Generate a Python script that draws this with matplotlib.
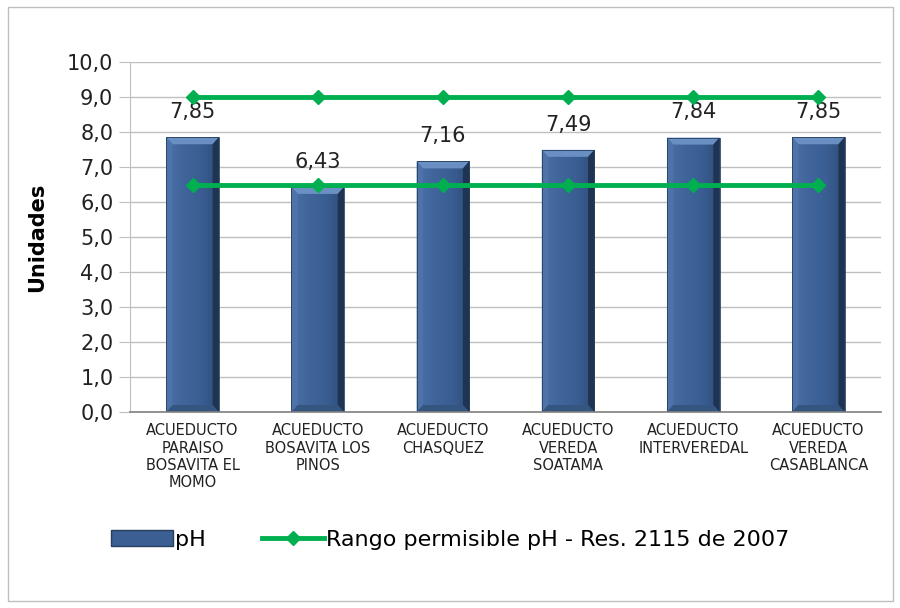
import matplotlib.pyplot as plt
import matplotlib.patches as mpatches
from matplotlib.lines import Line2D
from matplotlib.colors import LinearSegmentedColormap
import numpy as np

categories = [
    "ACUEDUCTO\nPARAISO\nBOSAVITA EL\nMOMO",
    "ACUEDUCTO\nBOSAVITA LOS\nPINOS",
    "ACUEDUCTO\nCHASQUEZ",
    "ACUEDUCTO\nVEREDA\nSOATAMA",
    "ACUEDUCTO\nINTERVEREDAL",
    "ACUEDUCTO\nVEREDA\nCASABLANCA",
]
ph_values = [7.85, 6.43, 7.16, 7.49, 7.84, 7.85]
range_max = [9.0] * 6
range_min = [6.5] * 6
y_ticks = [0, 1, 2, 3, 4, 5, 6, 7, 8, 9, 10]

plt.rcParams['font.family'] = ['DejaVu Sans']

fig = plt.figure(figsize=(9, 6.08), dpi=100)
fig.patches.append(mpatches.Rectangle((0.009, 0.012), 0.983, 0.976, transform=fig.transFigure,
                                      fill=False, edgecolor='#bfbfbf', linewidth=1))
ax = fig.add_axes([130 / 900, 1 - 412 / 608, 751 / 900, 350 / 608])

x = np.arange(len(categories))
bars = ax.bar(x, ph_values, width=0.42, color='#3b5f92', zorder=2)

# bevelled bar faces: gradient body with light/dark edge facets
cmap = LinearSegmentedColormap.from_list('barshade', ['#4a70a7', '#3f659b', '#3a5e92', '#2e4d7a'])
grad = np.linspace(0, 1, 64).reshape(1, -1)
bx, by = 0.05, 0.2
for b in bars:
    x0, y0 = b.get_x(), b.get_y()
    w, h = b.get_width(), b.get_height()
    x1, y1 = x0 + w, y0 + h
    im = ax.imshow(grad, cmap=cmap, extent=[x0, x1, y0, y1], aspect='auto', zorder=2.1)
    im.set_clip_path(b)
    facets = [
        ([[x0, y1], [x1, y1], [x1 - bx, y1 - by], [x0 + bx, y1 - by]], '#6a8fc3'),
        ([[x0, y0], [x0, y1], [x0 + bx, y1 - by], [x0 + bx, y0 + by]], '#4d73a9'),
        ([[x1, y0], [x1, y1], [x1 - bx, y1 - by], [x1 - bx, y0 + by]], '#1f3352'),
        ([[x0, y0], [x1, y0], [x1 - bx, y0 + by], [x0 + bx, y0 + by]], '#34557f'),
    ]
    for pts, c in facets:
        ax.add_patch(mpatches.Polygon(pts, closed=True, facecolor=c, edgecolor='none', zorder=2.2))
    ax.add_patch(mpatches.Rectangle((x0, y0), w, h, fill=False, edgecolor='#25405f',
                                    linewidth=0.6, zorder=2.3))
    ax.annotate(f"{b.get_height():.2f}".replace('.', ','), (x0 + w / 2, y1),
                xytext=(0, 11), textcoords='offset points', ha='center', va='bottom',
                fontsize=15, color='#222222')

ax.plot(x, range_max, color='#00b050', linewidth=3.5, marker='D', markersize=7, zorder=3)
ax.plot(x, range_min, color='#00b050', linewidth=3.5, marker='D', markersize=7, zorder=3)

ax.set_xlim(-0.5, len(categories) - 0.5)
ax.set_ylim(0, 10)
ax.set_yticks(y_ticks)
ax.set_yticklabels([f"{v:.1f}".replace('.', ',') for v in y_ticks], fontsize=15, color='#222222')
ax.set_xticks(x)
ax.set_xticklabels(categories, fontsize=10.5, color='#222222', linespacing=1.2)
ax.tick_params(axis='x', length=0, pad=8)
ax.tick_params(axis='y', length=8, color='#bfbfbf', pad=4)
ax.grid(axis='y', color='#bfbfbf', linewidth=1, zorder=0)
ax.set_axisbelow(True)
for s in ['top', 'right']:
    ax.spines[s].set_visible(False)
ax.spines['left'].set_color('#bfbfbf')
ax.spines['bottom'].set_color('#808080')
ax.spines['bottom'].set_linewidth(1.2)

ax.set_ylabel('Unidades', fontsize=15, fontweight='bold', labelpad=14)

handles = [mpatches.Patch(facecolor='#3b5f92', edgecolor='#25405f'),
           Line2D([], [], color='#00b050', linewidth=3.5, marker='D', markersize=7)]
fig.legend(handles, ['pH', 'Rango permisible pH - Res. 2115 de 2007'], loc='center',
           bbox_to_anchor=(450 / 900, 1 - 540 / 608), ncol=2, frameon=False, fontsize=16,
           handlelength=2.8, handletextpad=0.1, columnspacing=2.5)

fig.savefig('out.png', dpi=100)
